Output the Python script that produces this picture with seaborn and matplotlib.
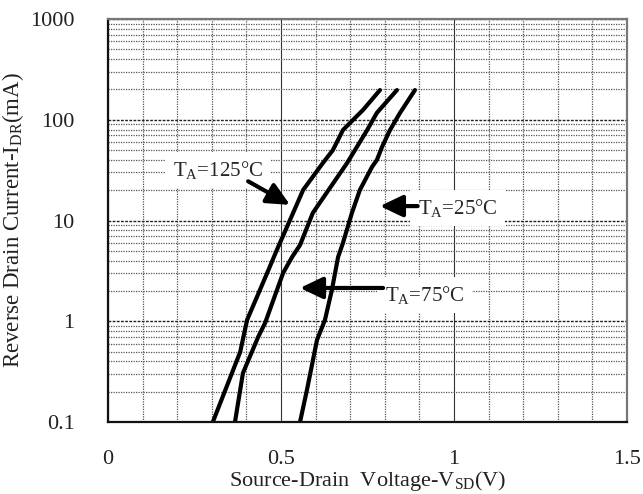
import numpy as np
import pandas as pd
import matplotlib
matplotlib.use("Agg")
import matplotlib.pyplot as plt
from matplotlib.ticker import LogLocator, FixedLocator
import seaborn as sns

# ---- data ----
v_125 = [0.303, 0.382, 0.402, 0.460, 0.488, 0.526, 0.564, 0.621, 0.650, 0.679, 0.708, 0.737, 0.786]
i_125 = [0.1, 0.495, 1.03, 3.01, 5.1, 10.1, 20.1, 37.2, 50, 79, 99.5, 125, 197]

v_75 = [0.367, 0.390, 0.434, 0.454, 0.506, 0.532, 0.555, 0.592, 0.691, 0.749, 0.777, 0.835]
i_75 = [0.1, 0.306, 0.698, 0.96, 3.01, 4.34, 5.71, 11.9, 37.2, 79, 117, 197]

v_25 = [0.555, 0.575, 0.604, 0.627, 0.647, 0.665, 0.679, 0.705, 0.728, 0.763, 0.777, 0.792, 0.815, 0.844, 0.887]
i_25 = [0.1, 0.208, 0.651, 1.03, 2.04, 4.34, 5.98, 11.9, 20.1, 34, 39.8, 53.7, 79, 117, 197]

x_ticks = [0, 0.5, 1, 1.5]
x_tick_labels = ["0", "0.5", "1", "1.5"]
y_ticks = [0.1, 1, 10, 100, 1000]
y_tick_labels = ["0.1", "1", "10", "100", "1000"]

series = ["125", "75", "25"]

df = pd.concat([
    pd.DataFrame({"V": v_125, "I": i_125, "T": "125"}),
    pd.DataFrame({"V": v_75, "I": i_75, "T": "75"}),
    pd.DataFrame({"V": v_25, "I": i_25, "T": "25"}),
], ignore_index=True)

sns.set_theme(style="white")
plt.rcParams["font.family"] = ["Liberation Serif", "DejaVu Serif"]
plt.rcParams["mathtext.fontset"] = "custom"
plt.rcParams["mathtext.rm"] = "Liberation Serif"
plt.rcParams["mathtext.it"] = "Liberation Serif"

fig = plt.figure(figsize=(6.43, 4.94), dpi=100)
ax = fig.add_axes([108 / 643, 1 - 422 / 494, (627 - 108) / 643, (422 - 19) / 494])

ax.set_yscale("log")
ax.set_xlim(0, 1.5)
ax.set_ylim(0.1, 1000)

# grid
ax.xaxis.set_minor_locator(FixedLocator([k / 10 for k in range(1, 15) if k not in (5, 10)]))
ax.yaxis.set_minor_locator(LogLocator(base=10, subs=np.arange(2, 10), numticks=20))
ax.grid(which="minor", axis="both", color="#555555", linestyle=(0, (1, 1)), linewidth=0.9)
ax.xaxis.grid(which="major", color="#333333", linestyle="-", linewidth=0.8)
ax.yaxis.grid(which="major", color="#222222", linestyle=(0, (2, 1)), linewidth=1.0)
ax.set_axisbelow(True)

sns.lineplot(data=df, x="V", y="I", hue="T", hue_order=series,
             palette=["black", "black", "black"], sort=False, estimator=None,
             linewidth=3.0, legend=False, ax=ax)

ax.set_xticks(x_ticks)
ax.set_xticklabels(x_tick_labels)
ax.set_yticks(y_ticks)
ax.set_yticklabels(y_tick_labels)
ax.tick_params(axis="both", which="both", length=0, labelsize=16, colors="#222222")
ax.tick_params(axis="x", pad=20)
ax.tick_params(axis="y", pad=24)

ax.set_xlabel(r"Source-Drain  Voltage-V$_{\mathrm{SD}}$(V)", fontsize=16, color="#222222", labelpad=0)
ax.set_ylabel(r"Reverse Drain Current-I$_{\mathrm{DR}}$(mA)", fontsize=16.5, color="#222222")
ax.yaxis.set_label_coords(-0.158, 0.5)

for side in ["left", "bottom"]:
    ax.spines[side].set_color("#111111")
    ax.spines[side].set_linewidth(1.6)
for side in ["top", "right"]:
    ax.spines[side].set_color("#777777")
    ax.spines[side].set_linewidth(1.6)

box = dict(boxstyle="square,pad=0.35", facecolor="white", edgecolor="none")
arrow = dict(arrowstyle="-|>,head_length=1.15,head_width=0.55", color="black", linewidth=3.0,
             shrinkA=0, shrinkB=0, mutation_scale=12)

# 125 C
ax.text(0.318, 31.7, r"T$_{\mathrm{A}}$=125°C", fontsize=15, ha="center", va="center", bbox=box, zorder=2.5)
ax.annotate("", xy=(0.526, 14.3), xytext=(0.405, 24.5), arrowprops=arrow, zorder=4)
# 25 C
ax.text(1.01, 13.3, r"T$_{\mathrm{A}}$=25°C", fontsize=15, ha="center", va="center", bbox=box, zorder=2.5)
ax.annotate("", xy=(0.786, 13.9), xytext=(0.895, 13.9), arrowprops=arrow, zorder=4)
# 75 C
ax.text(0.915, 1.82, r"T$_{\mathrm{A}}$=75°C", fontsize=15, ha="center", va="center", bbox=box, zorder=2.5)
ax.annotate("", xy=(0.555, 2.14), xytext=(0.795, 2.14), arrowprops=arrow, zorder=4)

fig.savefig("out.png", dpi=100)
